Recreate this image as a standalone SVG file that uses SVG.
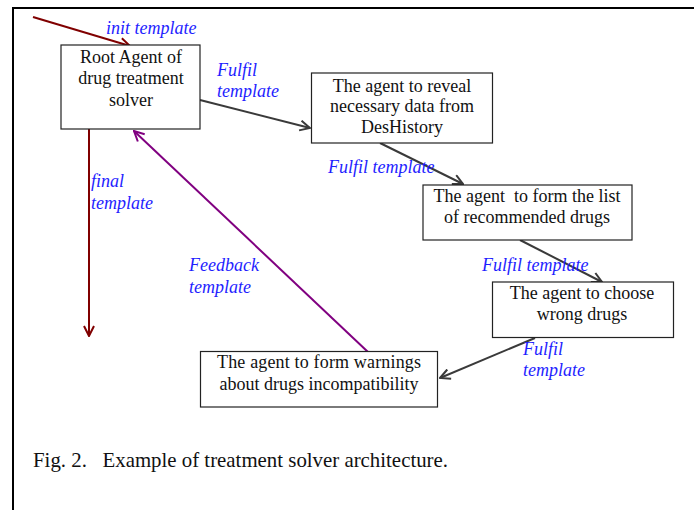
<svg xmlns="http://www.w3.org/2000/svg" width="694" height="510" viewBox="0 0 694 510">
<style>
.box{fill:#fff;stroke:#222;stroke-width:1.2}
.t{font-family:"Liberation Serif","Times New Roman",serif;font-size:18px;fill:#111;text-anchor:middle}
.lbl{font-family:"Liberation Serif","Times New Roman",serif;font-size:18px;font-style:italic;fill:#1e1eff}
.cap{font-family:"Liberation Serif","Times New Roman",serif;font-size:21px;fill:#111}
.cr{stroke:#800000;stroke-width:2;fill:none}
.cg{stroke:#3a3a3a;stroke-width:2;fill:none}
.cp{stroke:#800080;stroke-width:2;fill:none}
</style>
<defs>
<marker id="aR" viewBox="0 0 12 12" refX="11" refY="6" markerWidth="12" markerHeight="12" markerUnits="userSpaceOnUse" orient="auto"><path d="M1,1 L11,6 L1,11" fill="none" stroke="#800000" stroke-width="2"/></marker>
<marker id="aG" viewBox="0 0 12 12" refX="11" refY="6" markerWidth="12" markerHeight="12" markerUnits="userSpaceOnUse" orient="auto"><path d="M1,1 L11,6 L1,11" fill="none" stroke="#3a3a3a" stroke-width="2"/></marker>
<marker id="aP" viewBox="0 0 12 12" refX="11" refY="6" markerWidth="12" markerHeight="12" markerUnits="userSpaceOnUse" orient="auto"><path d="M1,1 L11,6 L1,11" fill="none" stroke="#800080" stroke-width="2"/></marker>
</defs>
<rect width="694" height="510" fill="#fff"/>
<g id="frame" stroke="#000" stroke-width="2" fill="none">
<line x1="12" y1="8" x2="694" y2="8"/>
<line x1="13" y1="7" x2="13" y2="510"/>
</g>
<g id="connectors">
<line class="cr" x1="33" y1="17" x2="130" y2="46" marker-end="url(#aR)"/>
<line class="cr" x1="89" y1="129" x2="89" y2="336" marker-end="url(#aR)"/>
<line class="cg" x1="200" y1="100" x2="310" y2="128" marker-end="url(#aG)"/>
<line class="cg" x1="380" y1="143" x2="463" y2="184" marker-end="url(#aG)"/>
<line class="cg" x1="520" y1="240" x2="602" y2="282" marker-end="url(#aG)"/>
<line class="cg" x1="535" y1="338" x2="440" y2="378" marker-end="url(#aG)"/>
<line class="cp" x1="368" y1="352" x2="134" y2="131" marker-end="url(#aP)"/>
</g>
<g id="root">
<rect class="box" x="61" y="45" width="139" height="84"/>
<text class="t" x="131" y="63">Root Agent of</text>
<text class="t" x="131" y="84">drug treatment</text>
<text class="t" x="131" y="106">solver</text>
</g>
<g id="reveal">
<rect class="box" x="311.5" y="73" width="181" height="70"/>
<text class="t" x="402" y="92">The agent to reveal</text>
<text class="t" x="402" y="112">necessary data from</text>
<text class="t" x="402" y="133">DesHistory</text>
</g>
<g id="list">
<rect class="box" x="423" y="185" width="209" height="55"/>
<text class="t" x="527" y="202" xml:space="preserve">The agent  to form the list</text>
<text class="t" x="527" y="223">of recommended drugs</text>
</g>
<g id="choose">
<rect class="box" x="492.5" y="282" width="181" height="55.5"/>
<text class="t" x="582" y="299">The agent to choose</text>
<text class="t" x="582" y="320">wrong drugs</text>
</g>
<g id="warnings">
<rect class="box" x="200.5" y="351.5" width="237" height="55.5"/>
<text class="t" x="319" y="368" textLength="204" lengthAdjust="spacing">The agent to form warnings</text>
<text class="t" x="319" y="390">about drugs incompatibility</text>
</g>
<g id="labels">
<text class="lbl" x="106" y="34">init template</text>
<text class="lbl" x="217" y="76">Fulfil</text>
<text class="lbl" x="217" y="97">template</text>
<text class="lbl" x="91" y="187">final</text>
<text class="lbl" x="91" y="209">template</text>
<text class="lbl" x="328" y="173">Fulfil template</text>
<text class="lbl" x="189" y="271">Feedback</text>
<text class="lbl" x="189" y="293">template</text>
<text class="lbl" x="482" y="271">Fulfil template</text>
<text class="lbl" x="523" y="355">Fulfil</text>
<text class="lbl" x="523" y="376">template</text>
</g>
<text class="cap" x="33" y="467" xml:space="preserve" textLength="415" lengthAdjust="spacingAndGlyphs">Fig. 2.   Example of treatment solver architecture.</text>
</svg>
